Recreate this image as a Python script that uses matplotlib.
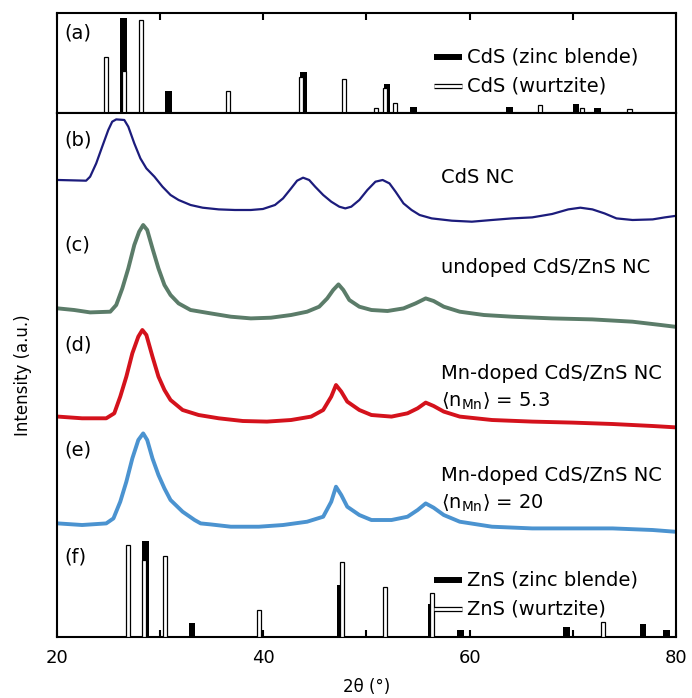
import matplotlib
matplotlib.use("Agg")
import matplotlib.pyplot as plt
import matplotlib.patheffects as pe
from matplotlib.ticker import MultipleLocator

plt.rcParams['font.family'] = 'DejaVu Sans'
plt.rcParams['mathtext.default'] = 'regular'

# --- reference patterns (peak position in 2theta, relative height) ---
cds_zb_pos = [26.5, 30.8, 43.9, 52.0, 54.6, 63.9, 70.3, 72.4]
cds_zb_h = [95, 22, 41, 29, 6, 6, 9, 5]
cds_w_pos = [24.8, 26.5, 28.2, 36.6, 43.7, 47.8, 50.9, 51.8, 52.8, 66.8, 70.9, 75.5]
cds_w_h = [56, 42, 93, 22, 36, 34, 5, 25, 10, 8, 5, 4]

zns_zb_pos = [28.6, 33.1, 47.5, 56.3, 59.1, 69.4, 76.8, 79.1]
zns_zb_h = [96, 14, 52, 33, 7, 10, 13, 7]
zns_w_pos = [26.9, 28.5, 30.5, 39.6, 47.6, 51.8, 56.4, 72.9]
zns_w_h = [92, 77, 81, 27, 75, 50, 44, 15]

# --- measured XRD curves (2theta, intensity a.u.) ---
b_x = [20.13, 22.85, 23.24, 23.83, 24.41, 25.0, 25.38, 25.77, 26.55, 26.94, 27.52, 28.11,
       28.69, 29.47, 30.25, 31.03, 31.81, 32.97, 34.14, 35.70, 37.26, 38.81, 39.98, 41.15,
       41.93, 42.71, 43.29, 43.87, 44.46, 45.04, 45.82, 46.6, 47.38, 47.96, 48.54, 49.32,
       50.1, 50.88, 51.58, 52.24, 52.83, 53.6, 54.38, 55.16, 56.33, 58.28, 60.22, 62.17,
       64.11, 66.06, 68.0, 69.56, 70.73, 71.9, 73.07, 74.23, 75.79, 77.74, 78.91, 79.88]
b_y = [41.7, 41, 45, 58.3, 75, 91.7, 100, 102.3, 101.7, 95, 78.3, 63.3,
       53.3, 45, 35, 26.7, 21.7, 16.7, 14, 12.3, 11.7, 11.7, 12.7, 16.7,
       23.3, 33.3, 41, 44, 41.7, 35, 26.7, 20, 15, 13.3, 15, 21.7,
       31.7, 40, 41.7, 38.3, 30, 18.3, 11.7, 6.7, 3.3, 1, 0, 1.7,
       3.3, 4.3, 7.7, 12.3, 14, 12.3, 8.3, 3.3, 1.7, 2.3, 4.3, 5.7]

c_x = [20.13, 21.69, 23.24, 25.19, 25.77, 26.36, 26.94, 27.52, 27.99, 28.38, 28.77, 29.28,
       29.86, 30.44, 31.03, 31.81, 32.97, 34.92, 36.87, 38.81, 40.76, 42.71, 44.26, 45.43,
       46.21, 46.79, 47.3, 47.77, 48.35, 49.32, 50.49, 52.05, 53.6, 54.77, 55.75, 56.52,
       57.5, 59.05, 61.39, 64.11, 68.0, 71.9, 75.79, 78.52, 79.88]
c_y = [18.3, 16.7, 14.3, 15, 21.7, 38.3, 58.3, 81.7, 95, 101.7, 96.7, 78.3,
       58.3, 41.7, 31.7, 23.3, 16.7, 13.3, 10, 8.3, 9, 11.7, 15, 20,
       28.3, 36.7, 42.3, 36.7, 26.7, 20, 16.7, 15.7, 18.3, 23.3, 28.3, 25.7,
       20, 15, 11.7, 10, 8.3, 7.3, 5, 1.7, 0]

d_x = [20.13, 22.46, 24.8, 25.58, 26.16, 26.75, 27.33, 27.91, 28.3, 28.69, 29.28, 29.86,
       30.44, 31.03, 32.2, 33.75, 35.7, 38.03, 40.37, 42.71, 44.65, 45.82, 46.6, 47.06,
       47.57, 48.15, 49.32, 50.49, 52.44, 53.99, 54.97, 55.75, 56.52, 57.5, 59.05, 62.17,
       66.06, 69.95, 73.85, 77.74, 79.88]
d_y = [10.7, 9, 9, 14, 30.7, 50.7, 74, 90.7, 97.3, 92.3, 70.7, 50.7,
       37.3, 27.3, 17.3, 12.3, 9, 6.3, 5.7, 7.3, 10.7, 17.3, 30.7, 42.3,
       35.7, 25.7, 17.3, 12.3, 10.7, 14, 19, 24.7, 21.3, 15.7, 10.7, 7.3,
       5.7, 4.7, 3.3, 1.3, 0]

e_x = [20.13, 22.46, 24.8, 25.5, 26.16, 26.75, 27.33, 27.91, 28.38, 28.77, 29.28, 29.86,
       30.44, 31.03, 32.2, 33.36, 33.95, 34.92, 36.87, 39.59, 41.93, 44.26, 45.82, 46.6,
       47.06, 47.57, 48.15, 49.32, 50.49, 52.44, 53.99, 54.97, 55.75, 56.52, 57.5, 59.05,
       62.17, 66.06, 69.95, 73.85, 77.74, 79.88]
e_y = [8.3, 6.7, 8.3, 13.3, 30, 50, 73.3, 91.7, 98.3, 91.7, 73.3, 56.7,
       43.3, 31.7, 20, 11.7, 8.3, 7.3, 5, 5, 6.7, 10, 15, 30,
       45, 36.7, 25, 16.7, 11.7, 11.7, 15, 21.7, 28.3, 24, 16.7, 10,
       5, 3.3, 3.3, 3.3, 1.7, 0]

curves = [
    (b_x, b_y, 415, '#1c1c7c', 1.6, '(b)'),
    (c_x, c_y, 310, '#5b7c69', 2.8, '(c)'),
    (d_x, d_y, 209.4, '#d4121c', 2.8, '(d)'),
    (e_x, e_y, 105, '#4b93d0', 2.8, '(e)'),
]

FS = 14
ZB_W = 0.65
W_W = 0.4


def draw_sticks(ax, zb_pos, zb_h, w_pos, w_h):
    ax.bar(zb_pos, zb_h, width=ZB_W, color='black', linewidth=0, zorder=2)
    ax.bar(w_pos, w_h, width=W_W, facecolor='white', edgecolor='black', linewidth=0.9, zorder=3)


def draw_key(ax, x0, x1, y, kind, label):
    if kind == 'zb':
        ax.plot([x0, x1], [y, y], color='black', lw=4.3, solid_capstyle='butt', zorder=4)
    else:
        ax.plot([x0, x1], [y, y], color='white', lw=2.0, solid_capstyle='butt', zorder=4,
                path_effects=[pe.Stroke(linewidth=3.8, foreground='black'), pe.Normal()])
    ax.text(x1 + 0.45, y, label, fontsize=FS, va='center', ha='left')


fig = plt.figure(figsize=(6.92, 6.98), dpi=100)
ax_top = fig.add_axes([0.0819, 0.8377, 0.895, 0.1433])
ax = fig.add_axes([0.0819, 0.0878, 0.895, 0.7499])

for a in (ax_top, ax):
    a.set_xlim(20, 80)
    for s in a.spines.values():
        s.set_linewidth(1.5)
    a.set_yticks([])

# (a) CdS reference panel
draw_sticks(ax_top, cds_zb_pos, cds_zb_h, cds_w_pos, cds_w_h)
ax_top.set_ylim(0, 100)
ax_top.xaxis.set_major_locator(MultipleLocator(10))
ax_top.tick_params(axis='x', direction='in', top=True, bottom=False, labelbottom=False,
                   length=5, width=1.5)
ax_top.text(20.7, 80, '(a)', fontsize=FS, va='center')
draw_key(ax_top, 56.6, 59.3, 55.8, 'zb', 'CdS (zinc blende)')
draw_key(ax_top, 56.6, 59.3, 27.3, 'w', 'CdS (wurtzite)')

# main panel with stacked curves
ax.set_ylim(0, 523.4)
for xs, ys, off, col, lw, tag in curves:
    ax.plot(xs, [v + off for v in ys], color=col, lw=lw, solid_joinstyle='round')
    ax.text(20.7, off + 82, tag, fontsize=FS, va='center')

ax.text(57.2, 458.7, 'CdS NC', fontsize=FS, va='center')
ax.text(57.2, 368.7, 'undoped CdS/ZnS NC', fontsize=FS, va='center')
ax.text(57.2, 263, 'Mn-doped CdS/ZnS NC', fontsize=FS, va='center')
ax.text(57.2, 235, r'$\langle n_{Mn}\rangle$ = 5.3', fontsize=FS, va='center')
ax.text(57.2, 161.7, 'Mn-doped CdS/ZnS NC', fontsize=FS, va='center')
ax.text(57.2, 133.7, r'$\langle n_{Mn}\rangle$ = 20', fontsize=FS, va='center')

# (f) ZnS reference sticks
draw_sticks(ax, zns_zb_pos, zns_zb_h, zns_w_pos, zns_w_h)
ax.text(20.7, 80, '(f)', fontsize=FS, va='center')
draw_key(ax, 56.6, 59.3, 56.5, 'zb', 'ZnS (zinc blende)')
draw_key(ax, 56.6, 59.3, 28.0, 'w', 'ZnS (wurtzite)')

ax.xaxis.set_major_locator(MultipleLocator(20))
ax.xaxis.set_minor_locator(MultipleLocator(10))
ax.tick_params(axis='x', which='both', direction='in', length=5, width=1.5,
               labelsize=13, pad=9)
ax.set_xlabel('2θ (°)', fontsize=12, labelpad=8)
ax.set_ylabel('Intensity (a.u.)', fontsize=12, labelpad=18)

fig.savefig('out.png', dpi=100, facecolor='white')
